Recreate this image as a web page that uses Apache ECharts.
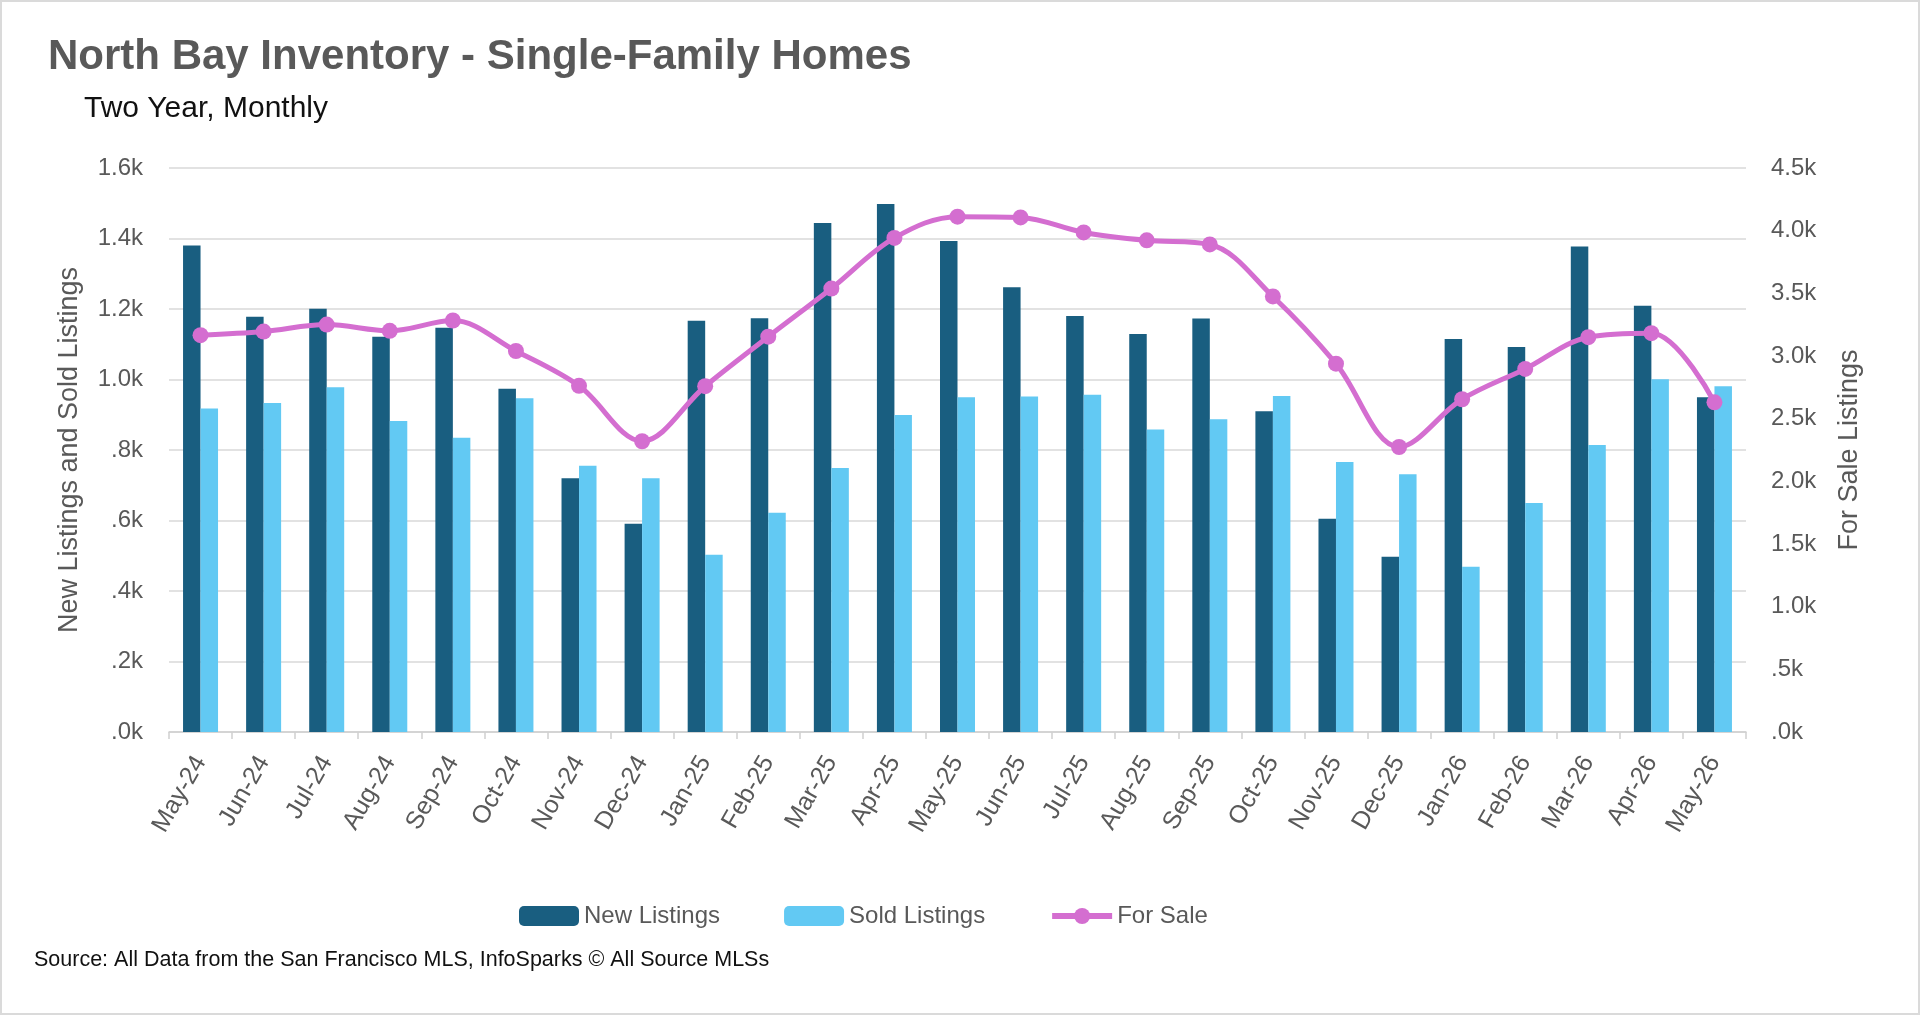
<!DOCTYPE html>
<html>
<head>
<meta charset="utf-8">
<title>North Bay Inventory - Single-Family Homes</title>
<script src="https://cdn.jsdelivr.net/npm/echarts@6/dist/echarts.min.js"></script>
<style>
    html, body { margin: 0; padding: 0; background: #fff; }
    #chart { width: 1920px; height: 1015px; }
    #frame {
        position: absolute; left: 0; top: 0;
        width: 1920px; height: 1015px;
        box-sizing: border-box;
        border: 2px solid #dadada;
        pointer-events: none;
    }
</style>
</head>
<body>
<div id="chart"></div>
<div id="frame"></div>
<script>
// data
const months = ['May-24', 'Jun-24', 'Jul-24', 'Aug-24', 'Sep-24', 'Oct-24', 'Nov-24', 'Dec-24',
    'Jan-25', 'Feb-25', 'Mar-25', 'Apr-25', 'May-25', 'Jun-25', 'Jul-25', 'Aug-25', 'Sep-25',
    'Oct-25', 'Nov-25', 'Dec-25', 'Jan-26', 'Feb-26', 'Mar-26', 'Apr-26', 'May-26'];
const newListings = [1380, 1178, 1201, 1121, 1147, 974, 720, 591, 1167, 1174, 1444, 1498, 1393,
    1262, 1180, 1129, 1173, 910, 605, 497, 1115, 1092, 1377, 1209, 950];
const soldListings = [918, 933, 978, 882, 835, 947, 755, 720, 503, 622, 749, 899, 950,
    952, 957, 858, 887, 953, 766, 731, 469, 650, 814, 1001, 981];
const forSale = [3166, 3195, 3251, 3201, 3283, 3040, 2762, 2320, 2759, 3154, 3538, 3942, 4112,
    4106, 3986, 3923, 3890, 3475, 2939, 2274, 2655, 2897, 3150, 3182, 2630];

const FONT = "'Liberation Sans', Arial, sans-serif";
const GREY = '#595959';

// 1.6k, .8k, .0k ...
function kFmt(v) {
    return (v / 1000).toFixed(1).replace(/^0/, '') + 'k';
}

let chartObj = echarts.init(document.getElementById('chart'));

let options = {
    animation: false,
    textStyle: { fontFamily: FONT },
    title: [
        {
            text: 'North Bay Inventory - Single-Family Homes',
            left: 43,
            top: 31,
            textStyle: { fontFamily: FONT, fontSize: 42, fontWeight: 'bold', color: GREY }
        },
        {
            text: 'Two Year, Monthly',
            left: 79,
            top: 89,
            textStyle: { fontFamily: FONT, fontSize: 30, fontWeight: 'normal', color: '#111' }
        },
        {
            text: 'Source: All Data from the San Francisco MLS, InfoSparks © All Source MLSs',
            left: 29,
            top: 944,
            textStyle: { fontFamily: FONT, fontSize: 21.5, fontWeight: 'normal', color: '#111' }
        }
    ],
    legend: {
        left: 514,
        top: 899,
        itemWidth: 60,
        itemHeight: 20,
        itemGap: 64,
        textStyle: { fontFamily: FONT, fontSize: 24, color: GREY },
        lineStyle: { width: 6 },
        data: ['New Listings', 'Sold Listings', 'For Sale']
    },
    grid: {
        left: 169,
        right: 174,
        top: 168,
        bottom: 283,
        containLabel: false
    },
    xAxis: {
        type: 'category',
        data: months,
        axisLine: { lineStyle: { color: '#d0d0d0', width: 1.5 } },
        axisTick: { show: true, length: 7, lineStyle: { color: '#d0d0d0', width: 1.5 } },
        axisLabel: {
            rotate: 60,
            margin: 26,
            fontSize: 25,
            color: GREY,
            fontFamily: FONT
        }
    },
    yAxis: [
        {
            type: 'value',
            min: 0,
            max: 1600,
            interval: 200,
            name: 'New Listings and Sold Listings',
            nameLocation: 'middle',
            nameGap: 86,
            nameTextStyle: { fontFamily: FONT, fontSize: 27, color: GREY },
            axisLine: { show: false },
            axisTick: { show: false },
            axisLabel: { fontSize: 24, color: GREY, margin: 26, formatter: kFmt },
            splitLine: { lineStyle: { color: '#d9d9d9', width: 1.5 } }
        },
        {
            type: 'value',
            min: 0,
            max: 4500,
            interval: 500,
            name: 'For Sale Listings',
            nameLocation: 'middle',
            nameRotate: 90,
            nameGap: 90,
            nameTextStyle: { fontFamily: FONT, fontSize: 27, color: GREY },
            axisLine: { show: false },
            axisTick: { show: false },
            axisLabel: { fontSize: 24, color: GREY, margin: 25, formatter: kFmt },
            splitLine: { show: false }
        }
    ],
    series: [
        {
            name: 'New Listings',
            type: 'bar',
            data: newListings,
            barWidth: 17.5,
            barGap: '0%',
            itemStyle: { color: '#195e80' }
        },
        {
            name: 'Sold Listings',
            type: 'bar',
            data: soldListings,
            barWidth: 17.5,
            barGap: '0%',
            itemStyle: { color: '#62c9f3' }
        },
        {
            name: 'For Sale',
            type: 'line',
            yAxisIndex: 1,
            data: forSale,
            smooth: 0.35,
            symbol: 'circle',
            symbolSize: 16,
            lineStyle: { color: '#d46ed0', width: 5 },
            itemStyle: { color: '#d46ed0' },
            z: 5
        }
    ]
};

chartObj.setOption(options);
</script>
</body>
</html>
